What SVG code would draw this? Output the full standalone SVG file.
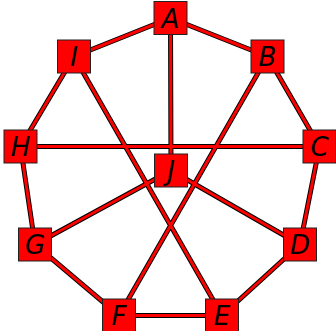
<svg xmlns="http://www.w3.org/2000/svg" width="336" height="331" viewBox="0 0 336 331">
<style>
.o{stroke:#000;stroke-width:5;fill:none}
.i{stroke:#f00;stroke-width:3;fill:none}
.n rect{fill:#f00;stroke:#222;stroke-width:1}
.n text{font-family:"DejaVu Sans",sans-serif;font-style:italic;font-size:26px;fill:#000;text-anchor:middle}
</style>
<defs>
<g id="ed">
<path d="M170.5,18L74,56.5M170.5,18L267.5,56.5M170.5,18L171,170.5M267.5,56.5L319.5,146.5M267.5,56.5L119,315.5M319.5,146.5L300,244.5M319.5,146.5L20.5,146.5M20.5,146.5L74,56.5M74,56.5L222,315.5M20.5,146.5L35,244.5M35,244.5L119,315.5M119,315.5L222,315.5M222,315.5L300,244.5M300,244.5L171,170.5M171,170.5L35,244.5"/>
</g>
</defs>
<g id="connectors">
<use href="#ed" class="o"/>
<use href="#ed" class="i"/>
</g>
<g id="A" class="n"><rect x="154" y="1.5" width="33" height="33"/><text x="170.5" y="27.5">A</text></g>
<g id="B" class="n"><rect x="251" y="40" width="33" height="33"/><text x="267.5" y="66">B</text></g>
<g id="C" class="n"><rect x="303" y="130" width="33" height="33"/><text x="319.5" y="156">C</text></g>
<g id="D" class="n"><rect x="283.5" y="228" width="33" height="33"/><text x="300" y="254">D</text></g>
<g id="E" class="n"><rect x="205.5" y="299" width="33" height="33"/><text x="222" y="325">E</text></g>
<g id="F" class="n"><rect x="102.5" y="299" width="33" height="33"/><text x="119" y="325">F</text></g>
<g id="G" class="n"><rect x="18.5" y="228" width="33" height="33"/><text x="35" y="254">G</text></g>
<g id="H" class="n"><rect x="4" y="130" width="33" height="33"/><text x="20.5" y="156">H</text></g>
<g id="I" class="n"><rect x="57.5" y="40" width="33" height="33"/><text x="74" y="66">I</text></g>
<g id="J" class="n"><rect x="154.5" y="154" width="33" height="33"/><text x="171" y="180">J</text></g>
</svg>
